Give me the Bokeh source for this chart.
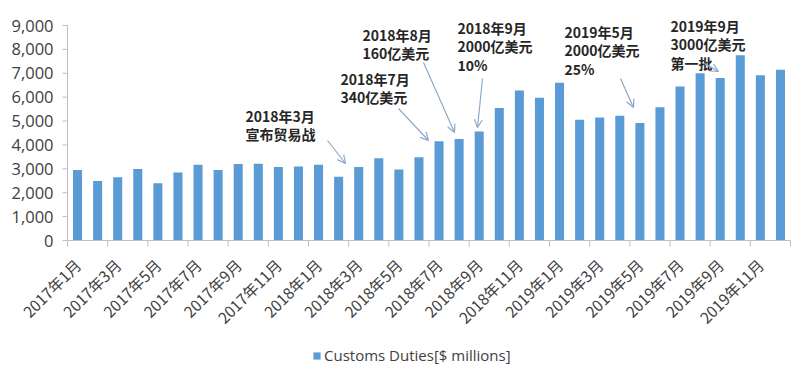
import math
from bokeh.plotting import figure
from bokeh.models import (Range1d, Label, Arrow, OpenHead, Legend, LegendItem)
from bokeh.core.properties import value
from bokeh.embed import file_html
from bokeh.resources import INLINE

months = ["2017年1月", "2017年2月", "2017年3月", "2017年4月", "2017年5月", "2017年6月",
          "2017年7月", "2017年8月", "2017年9月", "2017年10月", "2017年11月", "2017年12月",
          "2018年1月", "2018年2月", "2018年3月", "2018年4月", "2018年5月", "2018年6月",
          "2018年7月", "2018年8月", "2018年9月", "2018年10月", "2018年11月", "2018年12月",
          "2019年1月", "2019年2月", "2019年3月", "2019年4月", "2019年5月", "2019年6月",
          "2019年7月", "2019年8月", "2019年9月", "2019年10月", "2019年11月", "2019年12月"]
duties = [2950, 2490, 2650, 2990, 2400, 2850, 3170, 2950, 3200, 3210, 3080, 3100,
          3170, 2670, 3080, 3440, 2970, 3490, 4150, 4250, 4560, 5550, 6280, 5980,
          6600, 5050, 5150, 5220, 4920, 5580, 6450, 7000, 6800, 7750, 6920, 7150]
y_ticks = [0, 1000, 2000, 3000, 4000, 5000, 6000, 7000, 8000, 9000]
y_tick_labels = ["0", "1,000", "2,000", "3,000", "4,000", "5,000", "6,000", "7,000",
                 "8,000", "9,000"]
series_name = "Customs Duties[$ millions]"

annotations = [
    (["2018年3月", "宣布贸易战"], (245, 115), (327, 140), (345, 163)),
    (["2018年7月", "340亿美元"], (340, 78), (398, 108), (428, 140)),
    (["2018年8月", "160亿美元"], (362, 34), (423, 62), (454, 132)),
    (["2018年9月", "2000亿美元", "10%"], (457, 27), (482, 78), (477, 127)),
    (["2019年5月", "2000亿美元", "25%"], (564, 31), (620, 78), (633, 107)),
    (["2019年9月", "3000亿美元", "第一批"], (670, 25), (704, 63), (718, 71)),
]

n = len(months)
xs = [i + 0.5 for i in range(n)]

W, H = 792, 365
FL, FR = 67, 790          # pixel columns of the plot's left / right edge
Y0, Y9 = 240, 25          # pixel rows of 0 and 9,000
kx = n / (FR - FL)        # category units per pixel
ky = 9000 / (Y0 - Y9)     # value units per pixel

p = figure(width=W, height=H,
           x_range=Range1d(-FL * kx, n + (W - FR) * kx),
           y_range=Range1d(-(H - Y0) * ky, Y0 * ky),
           output_backend="svg", toolbar_location=None,
           x_axis_location=None, y_axis_location=None,
           min_border_left=0, min_border_right=0, min_border_top=0,
           min_border_bottom=0)
p.outline_line_color = None
p.border_fill_color = "white"
p.xgrid.visible = False
p.ygrid.visible = False

r = p.vbar(x=xs, top=duties, width=0.45, fill_color="#5B9BD5", line_color=None)

AXIS = "#BFBFBF"
# y axis
p.segment(x0=[0], y0=[0], x1=[0], y1=[9000], line_color=AXIS, line_width=1)
p.segment(x0=[-5 * kx] * len(y_ticks), y0=y_ticks, x1=[0] * len(y_ticks), y1=y_ticks,
          line_color=AXIS, line_width=1)
p.text(x=[-14 * kx] * len(y_ticks), y=y_ticks, text=y_tick_labels,
       text_align="right", text_baseline="middle", text_font=value("Open Sans"),
       text_font_size="16.5px", text_color="#404040")

# x axis
p.segment(x0=[0], y0=[0], x1=[n], y1=[0], line_color=AXIS, line_width=1)
bounds = list(range(0, n + 1, 2))
p.segment(x0=bounds, y0=[0] * len(bounds), x1=bounds, y1=[-6 * ky] * len(bounds),
          line_color=AXIS, line_width=1)
label_x = xs[::2]
p.text(x=label_x, y=[-21 * ky] * len(label_x), text=months[::2], angle=math.pi / 4,
       text_align="right", text_baseline="middle", text_font=value("Noto Sans CJK SC"),
       text_font_size="15.5px", text_color="#404040")

# annotations (positions read in pixels, converted to data units)
def to_data(px, py):
    return ((px - FL) * kx, (Y0 - py) * ky)

for lines, (tx, ty), (ax0, ay0), (ax1, ay1) in annotations:
    for j, line in enumerate(lines):
        dx, dy = to_data(tx, ty + j * 18.5)
        p.add_layout(Label(x=dx, y=dy, text=line, text_font="Noto Sans CJK SC",
                           text_font_style="bold", text_font_size="14px",
                           text_color="#262626", text_align="left",
                           text_baseline="middle"))
    sx, sy = to_data(ax0, ay0)
    ex, ey = to_data(ax1, ay1)
    p.add_layout(Arrow(x_start=sx, y_start=sy, x_end=ex, y_end=ey,
                       line_color="#8EA9C8", line_width=1.2,
                       end=OpenHead(size=8, line_color="#8EA9C8", line_width=1.2)))

legend = Legend(items=[LegendItem(label=series_name, renderers=[r])],
                location=(312, 0), orientation="horizontal",
                border_line_color=None, background_fill_alpha=0,
                padding=0, margin=0, spacing=0,
                glyph_width=9, glyph_height=9, label_height=16,
                label_standoff=3, label_text_font="Open Sans",
                label_text_font_size="15px", label_text_color="#404040")
p.add_layout(legend, "center")

open("out.html", "w").write(file_html(p, INLINE))
